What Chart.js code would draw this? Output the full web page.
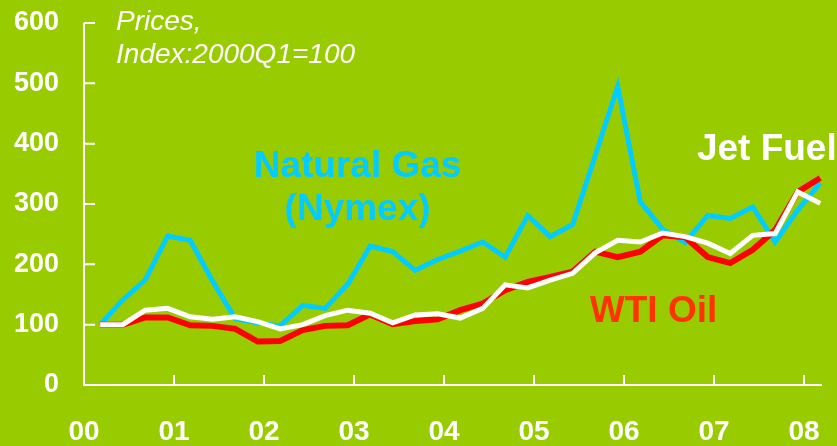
<!DOCTYPE html>
<html>
<head>
<meta charset="utf-8">
<script src="https://cdn.jsdelivr.net/npm/chart.js@4.4.1/dist/chart.umd.min.js"></script>
<style>
  html, body { margin: 0; padding: 0; background: #99CC00; }
  #chart { display: block; }
</style>
</head>
<body>
<canvas id="chart" width="837" height="446"></canvas>
<script>
// quarterly prices, index 2000Q1 = 100 (2000Q1 .. 2008Q1)
var yearLabels = ['00', '01', '02', '03', '04', '05', '06', '07', '08'];
var naturalGas = [100, 141, 174, 247, 240, 172, 110, 103, 98, 132, 127, 167, 230, 221, 190, 208,
                  222, 237, 212, 281, 246, 266, 380, 495, 304, 258, 236, 281, 276, 295, 237, 290, 335];
var wtiOil = [100, 100, 112, 112, 99, 98, 93, 72, 73, 91, 98, 99, 117, 101, 106, 109,
              124, 135, 157, 171, 179, 188, 221, 212, 221, 248, 245, 212, 202, 224, 257, 320, 343];
var jetFuel = [100, 100, 124, 127, 113, 109, 113, 105, 93, 100, 115, 124, 119, 103, 116, 118,
               111, 127, 166, 161, 174, 185, 219, 240, 237, 252, 246, 235, 218, 248, 251, 320, 301];
var yTicks = [0, 100, 200, 300, 400, 500, 600];

// x in years since 2000, plotted slightly into each quarter
function toPoints(arr) {
  return arr.map(function (v, i) { return { x: i / 4 + 0.18, y: v }; });
}

var WHITE = '#FFFFFF';

// axes with inward ticks + text labels
var decor = {
  id: 'decor',
  afterDatasetsDraw: function (chart) {
    var ctx = chart.ctx, xs = chart.scales.x, ys = chart.scales.y;
    var x0 = xs.getPixelForValue(0), y0 = ys.getPixelForValue(0);
    ctx.save();
    ctx.strokeStyle = WHITE;
    ctx.lineWidth = 2;
    ctx.beginPath();
    ctx.moveTo(x0, ys.getPixelForValue(600));
    ctx.lineTo(x0, y0);
    ctx.lineTo(xs.right, y0);
    yTicks.forEach(function (t) {
      var py = ys.getPixelForValue(t);
      ctx.moveTo(x0, py);
      ctx.lineTo(x0 + 11, py);
    });
    yearLabels.forEach(function (l, i) {
      if (i === 0) return;
      var px = xs.getPixelForValue(i);
      ctx.moveTo(px, y0);
      ctx.lineTo(px, y0 - 10);
    });
    ctx.stroke();

    ctx.textBaseline = 'alphabetic';
    ctx.fillStyle = WHITE;
    ctx.font = 'italic 28px "Liberation Sans", Arial, sans-serif';
    ctx.textAlign = 'left';
    ctx.fillText('Prices,', xs.getPixelForValue(0.356), ys.getPixelForValue(589));
    ctx.fillText('Index:2000Q1=100', xs.getPixelForValue(0.356), ys.getPixelForValue(533));

    ctx.font = 'bold 37px "Liberation Sans", Arial, sans-serif';
    ctx.fillStyle = '#00CCFF';
    ctx.textAlign = 'center';
    ctx.fillText('Natural Gas', xs.getPixelForValue(3.04), ys.getPixelForValue(344));
    ctx.fillText('(Nymex)', xs.getPixelForValue(3.04), ys.getPixelForValue(273));

    ctx.textAlign = 'left';
    ctx.fillStyle = WHITE;
    ctx.fillText('Jet Fuel', xs.getPixelForValue(6.81), ys.getPixelForValue(373));
    ctx.fillStyle = '#FF3300';
    ctx.fillText('WTI Oil', xs.getPixelForValue(5.62), ys.getPixelForValue(105));
    ctx.restore();
  }
};

var datos = {
  type: 'line',
  data: {
    datasets: [
      { label: 'Jet Fuel', data: toPoints(jetFuel), borderColor: WHITE, borderWidth: 5 },
      { label: 'WTI Oil', data: toPoints(wtiOil), borderColor: '#FF0000', borderWidth: 6 },
      { label: 'Natural Gas (Nymex)', data: toPoints(naturalGas), borderColor: '#00CCFF', borderWidth: 5 }
    ]
  },
  options: {
    responsive: false,
    animation: false,
    events: [],
    layout: { padding: { top: 23, right: 15, left: 0, bottom: 0 } },
    elements: {
      point: { radius: 0 },
      line: { tension: 0, fill: false, borderJoinStyle: 'miter' }
    },
    plugins: { legend: { display: false }, tooltip: { enabled: false } },
    scales: {
      x: {
        type: 'linear',
        min: 0,
        max: 8.2,
        border: { display: false },
        grid: { display: false, drawTicks: false },
        afterFit: function (s) {
          s.height = 61;
          s.paddingLeft = 0;
          s.paddingRight = 0;
        },
        afterBuildTicks: function (s) {
          s.ticks = yearLabels.map(function (l, i) { return { value: i }; });
        },
        ticks: {
          padding: 30,
          maxRotation: 0,
          autoSkip: false,
          color: WHITE,
          font: { family: '"Liberation Sans", Arial, sans-serif', size: 28, weight: 'bold' },
          callback: function (v) { return yearLabels[v]; }
        }
      },
      y: {
        min: 0,
        max: 600,
        border: { display: false },
        grid: { display: false, drawTicks: false },
        afterFit: function (s) {
          s.width = 84;
          s.paddingTop = 0;
          s.paddingBottom = 0;
        },
        afterBuildTicks: function (s) {
          s.ticks = yTicks.map(function (v) { return { value: v }; });
        },
        ticks: {
          padding: 25,
          color: WHITE,
          font: { family: '"Liberation Sans", Arial, sans-serif', size: 27, weight: 'bold' }
        }
      }
    }
  },
  plugins: [decor]
};

var canvas = document.getElementById('chart').getContext('2d');
window.chart = new Chart(canvas, datos);
</script>
</body>
</html>
